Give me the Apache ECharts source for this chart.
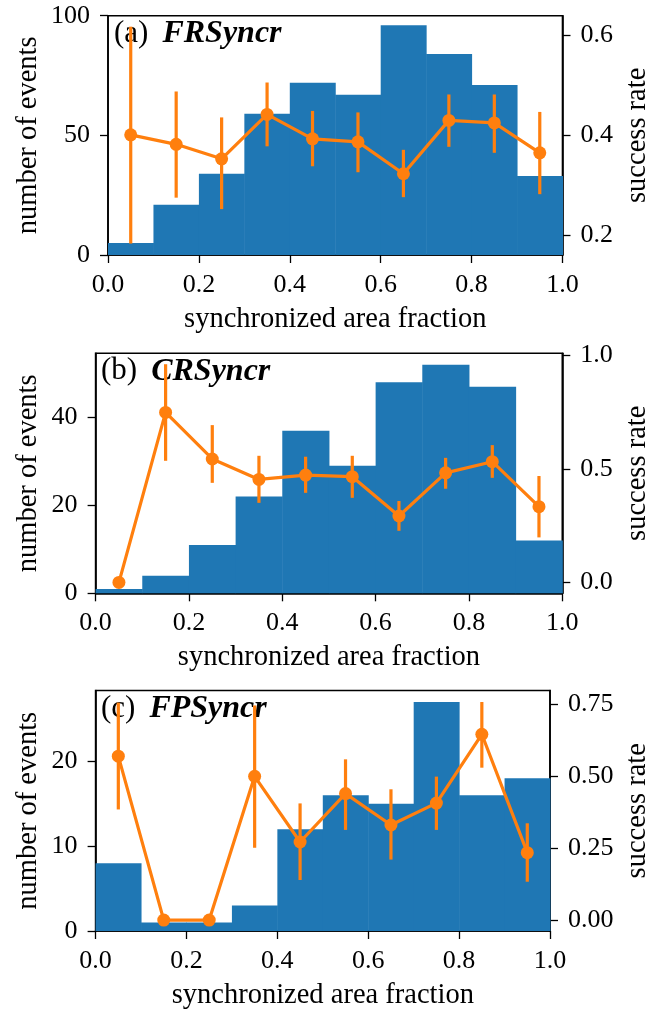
<!DOCTYPE html>
<html>
<head>
<meta charset="utf-8">
<script src="https://cdn.jsdelivr.net/npm/echarts@6/dist/echarts.min.js"></script>
<style>
html,body{margin:0;padding:0;background:#fff;overflow:hidden;}
#chart{width:646px;height:1010px;}
</style>
</head>
<body>
<div id="chart"></div>
<script>
// ---- data ----
const binEdges = [0.0, 0.1, 0.2, 0.3, 0.4, 0.5, 0.6, 0.7, 0.8, 0.9, 1.0];
const binCenters = [0.05, 0.15, 0.25, 0.35, 0.45, 0.55, 0.65, 0.75, 0.85, 0.95];
const xTicks = [0.0, 0.2, 0.4, 0.6, 0.8, 1.0];

const panelLabels = ["(a)", "(b)", "(c)"];
const panelNames = ["FRSyncr", "CRSyncr", "FPSyncr"];

const countsA = [5, 21, 34, 59, 72, 67, 96, 84, 71, 33];
const rateA = [0.401, 0.382, 0.353, 0.442, 0.393, 0.387, 0.323, 0.430, 0.425, 0.365];
const rateLowA = [0.183, 0.275, 0.252, 0.378, 0.338, 0.326, 0.276, 0.377, 0.365, 0.282];
const rateHighA = [0.618, 0.488, 0.436, 0.506, 0.449, 0.446, 0.371, 0.482, 0.482, 0.447];

const countsB = [1, 4, 11, 22, 37, 29, 48, 52, 47, 12];
const rateB = [0.0, 0.748, 0.543, 0.453, 0.472, 0.465, 0.292, 0.482, 0.531, 0.333];
const rateLowB = [0.0, 0.535, 0.438, 0.350, 0.394, 0.372, 0.227, 0.412, 0.460, 0.198];
const rateHighB = [0.0, 0.960, 0.692, 0.557, 0.553, 0.557, 0.358, 0.548, 0.604, 0.468];

const countsC = [8, 1, 1, 3, 12, 16, 15, 27, 16, 18];
const rateC = [0.569, 0.0, 0.0, 0.499, 0.271, 0.439, 0.330, 0.406, 0.645, 0.234];
const rateLowC = [0.384, 0.0, 0.0, 0.251, 0.139, 0.313, 0.210, 0.313, 0.529, 0.133];
const rateHighC = [0.755, 0.0, 0.0, 0.745, 0.405, 0.558, 0.454, 0.498, 0.757, 0.336];

const countTicksA = [0, 50, 100];
const countTicksB = [0, 20, 40];
const countTicksC = [0, 10, 20];
const rateTicksA = [0.2, 0.4, 0.6];
const rateTicksB = [0.0, 0.5, 1.0];
const rateTicksC = [0.0, 0.25, 0.50, 0.75];

// ---- layout / style ----
const FONT = "Liberation Serif";
const BLUE = "#1f77b4";
const ORANGE = "#ff7f0e";
const panels = [
  {grid:{left:108, top:15.7, width:454.5, height:239.3},
   counts:countsA, rate:rateA, lo:rateLowA, hi:rateHighA,
   cTicks:countTicksA, rTicks:rateTicksA, cMax:100, rMin:0.16, rMax:0.64, rDec:1,
   lGap:65, rGap:61, title:[114, 17.7]},
  {grid:{left:95.6, top:353.3, width:466.7, height:240},
   counts:countsB, rate:rateB, lo:rateLowB, hi:rateHighB,
   cTicks:countTicksB, rTicks:rateTicksB, cMax:54.6, rMin:-0.048, rMax:1.008, rDec:1,
   lGap:52.5, rGap:61, title:[101, 355.3]},
  {grid:{left:95.6, top:690.5, width:454.4, height:240.5},
   counts:countsC, rate:rateC, lo:rateLowC, hi:rateHighC,
   cTicks:countTicksC, rTicks:rateTicksC, cMax:28.35, rMin:-0.038, rMax:0.797, rDec:2,
   lGap:52.5, rGap:73.5, title:[101, 692.5]}
];

const grids = [], xAxes = [], yAxes = [], series = [], graphics = [];
const lineBlack = {color:'#000', width:1.6};
const tickStyle = {show:true, inside:false, length:8, lineStyle:{color:'#000', width:1.3}};
const labelStyle = {color:'#000', fontFamily:FONT, fontSize:26};
const nameStyle = {color:'#000', fontFamily:FONT, fontSize:28.5};

panels.forEach((p, i) => {
  grids.push(Object.assign({show:true, borderColor:'#000', borderWidth:1.6, backgroundColor:'transparent',
    containLabel:false, outerBoundsMode:'none'}, p.grid));
  xAxes.push({
    type:'value', gridIndex:i, min:0, max:1,
    axisLine:{show:true, onZero:false, lineStyle:lineBlack},
    axisTick:Object.assign({customValues:xTicks}, tickStyle),
    axisLabel:Object.assign({customValues:xTicks, margin:17, formatter:v=>v.toFixed(1)}, labelStyle),
    splitLine:{show:false},
    name:'synchronized area fraction', nameLocation:'middle', nameGap:50, nameMoveOverlap:false,
    nameTextStyle:nameStyle
  });
  yAxes.push({
    type:'value', gridIndex:i, position:'left', min:0, max:p.cMax,
    axisLine:{show:true, onZero:false, lineStyle:lineBlack},
    axisTick:Object.assign({customValues:p.cTicks}, tickStyle),
    axisLabel:Object.assign({customValues:p.cTicks, margin:18, formatter:v=>String(Math.round(v))}, labelStyle),
    splitLine:{show:false},
    name:'number of events', nameLocation:'middle', nameRotate:90, nameGap:p.lGap, nameMoveOverlap:false,
    nameTextStyle:nameStyle
  });
  yAxes.push({
    type:'value', gridIndex:i, position:'right', min:p.rMin, max:p.rMax,
    axisLine:{show:true, onZero:false, lineStyle:lineBlack},
    axisTick:Object.assign({customValues:p.rTicks}, tickStyle),
    axisLabel:Object.assign({customValues:p.rTicks, margin:18, formatter:v=>v.toFixed(p.rDec)}, labelStyle),
    splitLine:{show:false},
    name:'success rate', nameLocation:'middle', nameRotate:90, nameGap:p.rGap, nameMoveOverlap:false,
    nameTextStyle:nameStyle
  });
  const yl = 2*i, yr = 2*i+1;
  // histogram bars
  series.push({
    type:'custom', xAxisIndex:i, yAxisIndex:yl, z:1,
    data: p.counts.map((c,k)=>[binEdges[k], binEdges[k+1], c]),
    encode:{x:[0,1], y:2},
    renderItem:(params, api)=>{
      const a = api.coord([api.value(0), api.value(2)]);
      const b = api.coord([api.value(1), 0]);
      return {type:'rect', shape:{x:a[0], y:a[1], width:b[0]-a[0]+0.5, height:b[1]-a[1]}, style:{fill:BLUE}};
    }
  });
  // error bars
  series.push({
    type:'custom', xAxisIndex:i, yAxisIndex:yr, z:3,
    data: binCenters.map((x,k)=>[x, p.lo[k], p.hi[k]]),
    encode:{x:0, y:[1,2]},
    renderItem:(params, api)=>{
      const a = api.coord([api.value(0), api.value(1)]);
      const b = api.coord([api.value(0), api.value(2)]);
      return {type:'line', shape:{x1:a[0], y1:a[1], x2:b[0], y2:b[1]}, style:{stroke:ORANGE, lineWidth:3.2}};
    }
  });
  // rate line
  series.push({
    type:'line', xAxisIndex:i, yAxisIndex:yr, z:4,
    data: binCenters.map((x,k)=>[x, p.rate[k]]),
    symbol:'circle', symbolSize:13, showSymbol:true,
    itemStyle:{color:ORANGE},
    lineStyle:{color:ORANGE, width:3.2},
    animation:false
  });
  graphics.push({
    type:'text', left:p.title[0], top:p.title[1], z:2,
    style:{
      text:'{r|' + panelLabels[i] + '}{s| }{b|' + panelNames[i] + '}',
      rich:{
        r:{fontFamily:FONT, fontSize:31, fill:'#000', fontWeight:'normal'},
        s:{fontFamily:FONT, fontSize:31, width:14},
        b:{fontFamily:FONT, fontSize:32, fill:'#000', fontWeight:'bold', fontStyle:'italic'}
      }
    }
  });
});

const chart = echarts.init(document.getElementById('chart'), null, {renderer:'canvas'});
chart.setOption({
  animation:false,
  backgroundColor:'#fff',
  grid:grids, xAxis:xAxes, yAxis:yAxes, series:series, graphic:graphics
});
</script>
</body>
</html>
